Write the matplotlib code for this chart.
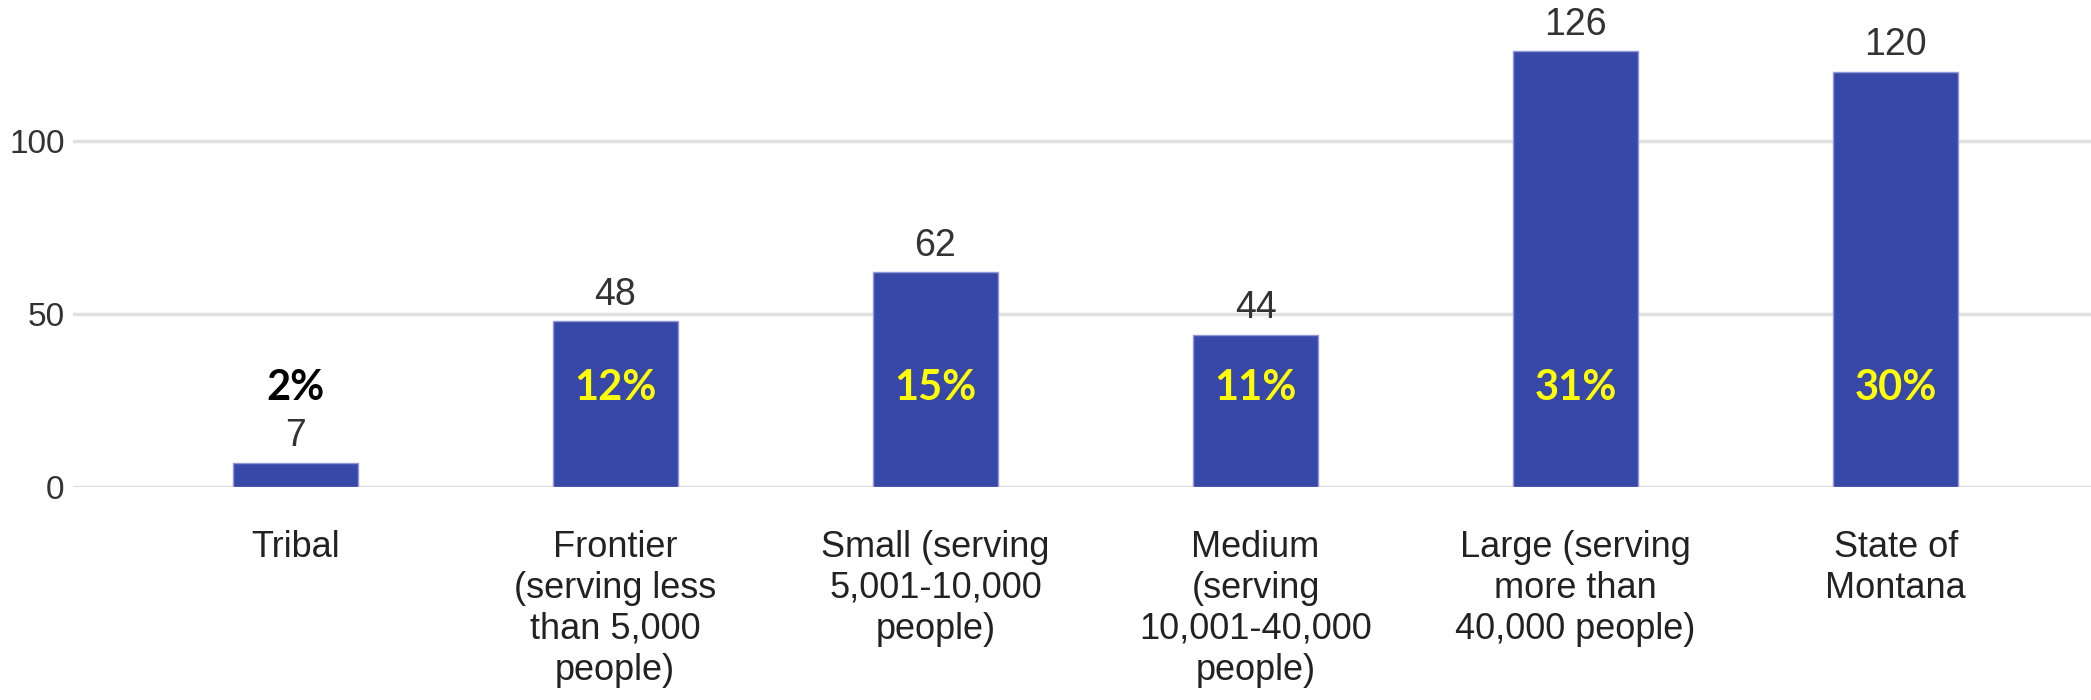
import matplotlib.pyplot as plt

categories = [
    "Tribal",
    "Frontier\n(serving less\nthan 5,000\npeople)",
    "Small (serving\n5,001-10,000\npeople)",
    "Medium\n(serving\n10,001-40,000\npeople)",
    "Large (serving\nmore than\n40,000 people)",
    "State of\nMontana",
]
counts = [7, 48, 62, 44, 126, 120]
shares = ["2%", "12%", "15%", "11%", "31%", "30%"]
share_colors = ["black", "#ffff00", "#ffff00", "#ffff00", "#ffff00", "#ffff00"]

plt.rcParams['font.family'] = ['Liberation Sans', 'DejaVu Sans']

fig = plt.figure(figsize=(20.91, 7), dpi=100)
ax = fig.add_axes([73 / 2091, 1 - 487 / 700, 1 - 73 / 2091, 487 / 700])

x_pos = list(range(len(categories)))
ax.bar(x_pos, counts, 0.39, color='#3848a8', edgecolor='#8f99d8', linewidth=1, zorder=3)

# raw counts above each bar
for x, c in zip(x_pos, counts):
    ax.annotate(str(c), (x, c), xytext=(0, 6), textcoords='offset points',
                ha='center', va='bottom', fontsize=27, color='#333333')

# share of total, drawn inside the bars
for x, s, col in zip(x_pos, shares, share_colors):
    ax.text(x, 28.5, s, ha='center', va='center', fontsize=30, fontweight='bold',
            color=col, family=['Lato', 'DejaVu Sans'], zorder=4)

ax.set_xlim(-0.694, 5.61)
ax.set_ylim(0, 140.7)
ax.set_yticks([0, 50, 100])
ax.set_xticks(x_pos)
ax.set_xticklabels(categories, fontsize=26, color='#222222', linespacing=1.22)
ax.tick_params(axis='y', labelsize=24, labelcolor='#333333', length=0, pad=6)
ax.tick_params(axis='x', length=0, pad=31)

ax.grid(True, axis='y', color='#e0e0e0', linewidth=2.5, zorder=0)
for side in ['top', 'right', 'left', 'bottom']:
    ax.spines[side].set_visible(False)

plt.savefig('out.png', dpi=100)
